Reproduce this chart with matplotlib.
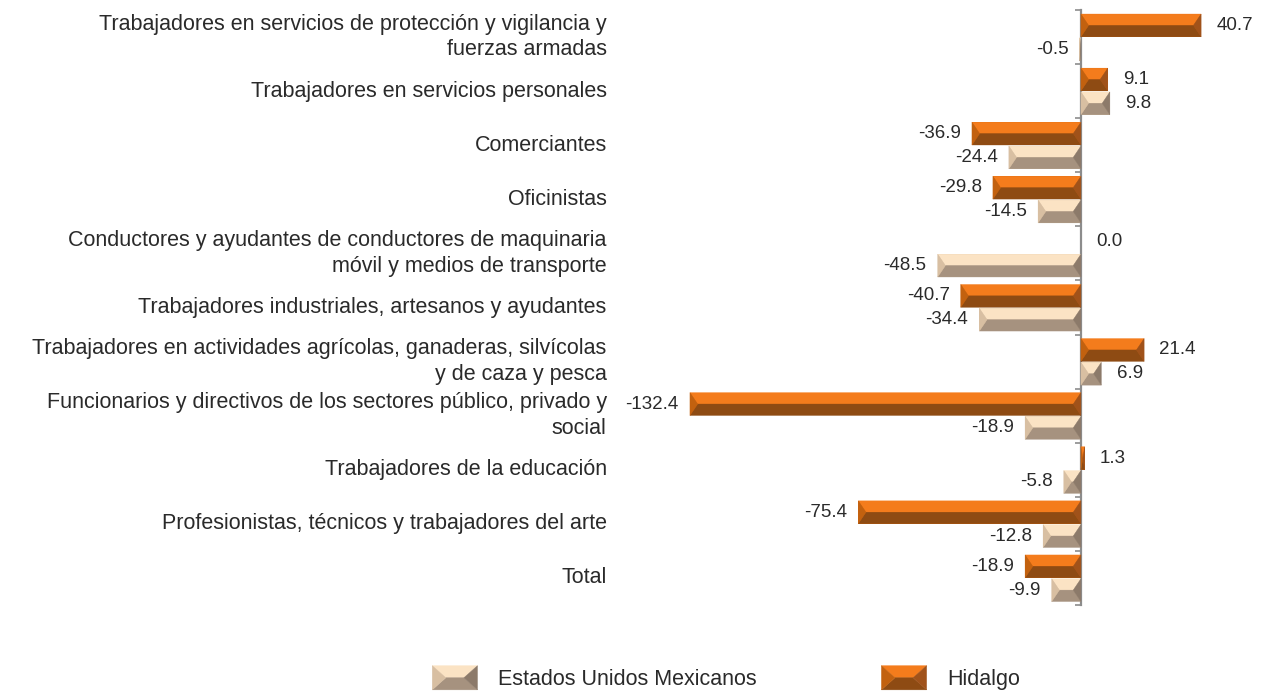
import matplotlib
matplotlib.use("Agg")
import matplotlib.pyplot as plt
from matplotlib.patches import Polygon, Rectangle
from matplotlib.legend_handler import HandlerBase
import numpy as np

plt.rcParams['font.family'] = ['Liberation Sans', 'DejaVu Sans']

categories = [
    "Trabajadores en servicios de protección y vigilancia y\nfuerzas armadas",
    "Trabajadores en servicios personales",
    "Comerciantes",
    "Oficinistas",
    "Conductores y ayudantes de conductores de maquinaria\nmóvil y medios de transporte",
    "Trabajadores industriales, artesanos y ayudantes",
    "Trabajadores en actividades agrícolas, ganaderas, silvícolas\ny de caza y pesca",
    "Funcionarios y directivos de los sectores público, privado y\nsocial",
    "Trabajadores de la educación",
    "Profesionistas, técnicos y trabajadores del arte",
    "Total",
]
hidalgo = [40.7, 9.1, -36.9, -29.8, 0.0, -40.7, 21.4, -132.4, 1.3, -75.4, -18.9]
nacional = [-0.5, 9.8, -24.4, -14.5, -48.5, -34.4, 6.9, -18.9, -5.8, -12.8, -9.9]
series_names = ["Estados Unidos Mexicanos", "Hidalgo"]

ORANGE = dict(base="#D8680F", top="#F47C1C", bot="#8E4B13", left="#C2610F", right="#A0521A")
BEIGE = dict(base="#D9C3A6", top="#FBE3C4", bot="#A6927F", left="#D8BFA2", right="#8C7A6A")
TXT = "#2a2a2a"

fig = plt.figure(figsize=(12.65, 6.92), dpi=100)
ax = fig.add_axes([638 / 1265, 87 / 692, 626 / 1265, 595 / 692])

y = np.arange(len(categories))
h = 0.42
bars_h = ax.barh(y - 0.215, hidalgo, height=h, color=ORANGE["base"], linewidth=0, zorder=2)
bars_n = ax.barh(y + 0.225, nacional, height=h, color=BEIGE["base"], linewidth=0, zorder=2)

ax.set_xlim(-150, 62)
ax.set_ylim(len(categories) - 0.5, -0.5)

BX = 2.6  # bevel width in data units


def bevel_patches(x, w, yb, hh, col, bx=BX):
    xl, xr = min(x, x + w), max(x, x + w)
    b = min(bx, (xr - xl) / 2)
    yt, ybt = yb, yb + hh
    ym = (yt + ybt) / 2
    polys = [
        ([(xl, yt), (xr, yt), (xr - b, ym), (xl + b, ym)], col["top"]),
        ([(xl, ybt), (xr, ybt), (xr - b, ym), (xl + b, ym)], col["bot"]),
        ([(xl, yt), (xl + b, ym), (xl, ybt)], col["left"]),
        ([(xr, yt), (xr - b, ym), (xr, ybt)], col["right"]),
    ]
    return polys


for bars, col in ((bars_h, ORANGE), (bars_n, BEIGE)):
    for p in bars:
        if p.get_width() == 0:
            continue
        for pts, c in bevel_patches(p.get_x(), p.get_width(), p.get_y(), p.get_height(), col):
            ax.add_patch(Polygon(pts, closed=True, facecolor=c, edgecolor=c, linewidth=0.3, zorder=3))

# value labels
for bars, vals in ((bars_h, hidalgo), (bars_n, nacional)):
    for p, v in zip(bars, vals):
        yc = p.get_y() + p.get_height() / 2
        if v >= 0:
            ax.annotate(f"{v:.1f}", (v, yc), xytext=(11, 0), textcoords="offset points",
                        ha="left", va="center", fontsize=13.5, color=TXT)
        else:
            ax.annotate(f"{v:.1f}", (v, yc), xytext=(-8, 0), textcoords="offset points",
                        ha="right", va="center", fontsize=13.5, color=TXT)

# category labels
for yi, lab in zip(y, categories):
    ax.text(-0.05, yi, lab, transform=ax.get_yaxis_transform(), ha="right", va="center",
            fontsize=15.5, color=TXT, linespacing=1.28)

for s in ("top", "right", "bottom"):
    ax.spines[s].set_visible(False)
ax.spines["left"].set_position(("data", 0))
ax.spines["left"].set_color("#8C8C8C")
ax.spines["left"].set_linewidth(1.6)
ax.set_yticks(np.arange(len(categories) + 1) - 0.5)
ax.set_yticklabels([])
ax.tick_params(axis="y", direction="out", length=4, width=1.2, color="#8C8C8C")
ax.set_xticks([])
ax.set_zorder(1)


class HandlerBevel(HandlerBase):
    def __init__(self, col):
        super().__init__()
        self.col = col

    def create_artists(self, legend, orig_handle, xdescent, ydescent, width, height, fontsize, trans):
        x0, y0 = -xdescent, -ydescent
        xl, xr = x0, x0 + width
        yb, yt = y0, y0 + height
        ym = (yb + yt) / 2
        b = width * 0.3
        col = self.col
        pts = [
            ([(xl, yt), (xr, yt), (xr - b, ym), (xl + b, ym)], col["top"]),
            ([(xl, yb), (xr, yb), (xr - b, ym), (xl + b, ym)], col["bot"]),
            ([(xl, yt), (xl + b, ym), (xl, yb)], col["left"]),
            ([(xr, yt), (xr - b, ym), (xr, yb)], col["right"]),
        ]
        arts = []
        for pp, c in pts:
            arts.append(Polygon(pp, closed=True, facecolor=c, edgecolor=c, linewidth=0.3, transform=trans))
        return arts


hN = Rectangle((0, 0), 1, 1, color=BEIGE["base"])
hH = Rectangle((0, 0), 1, 1, color=ORANGE["base"])
leg = fig.legend([hN, hH], series_names, loc="center", bbox_to_anchor=(0.574, 0.0205),
                 ncol=2, frameon=False, fontsize=15.5, handlelength=2.1, handleheight=1.35,
                 handletextpad=0.95, columnspacing=5.8, borderpad=0,
                 handler_map={hN: HandlerBevel(BEIGE), hH: HandlerBevel(ORANGE)})
for t in leg.get_texts():
    t.set_color(TXT)

fig.savefig("out.png", dpi=100)
